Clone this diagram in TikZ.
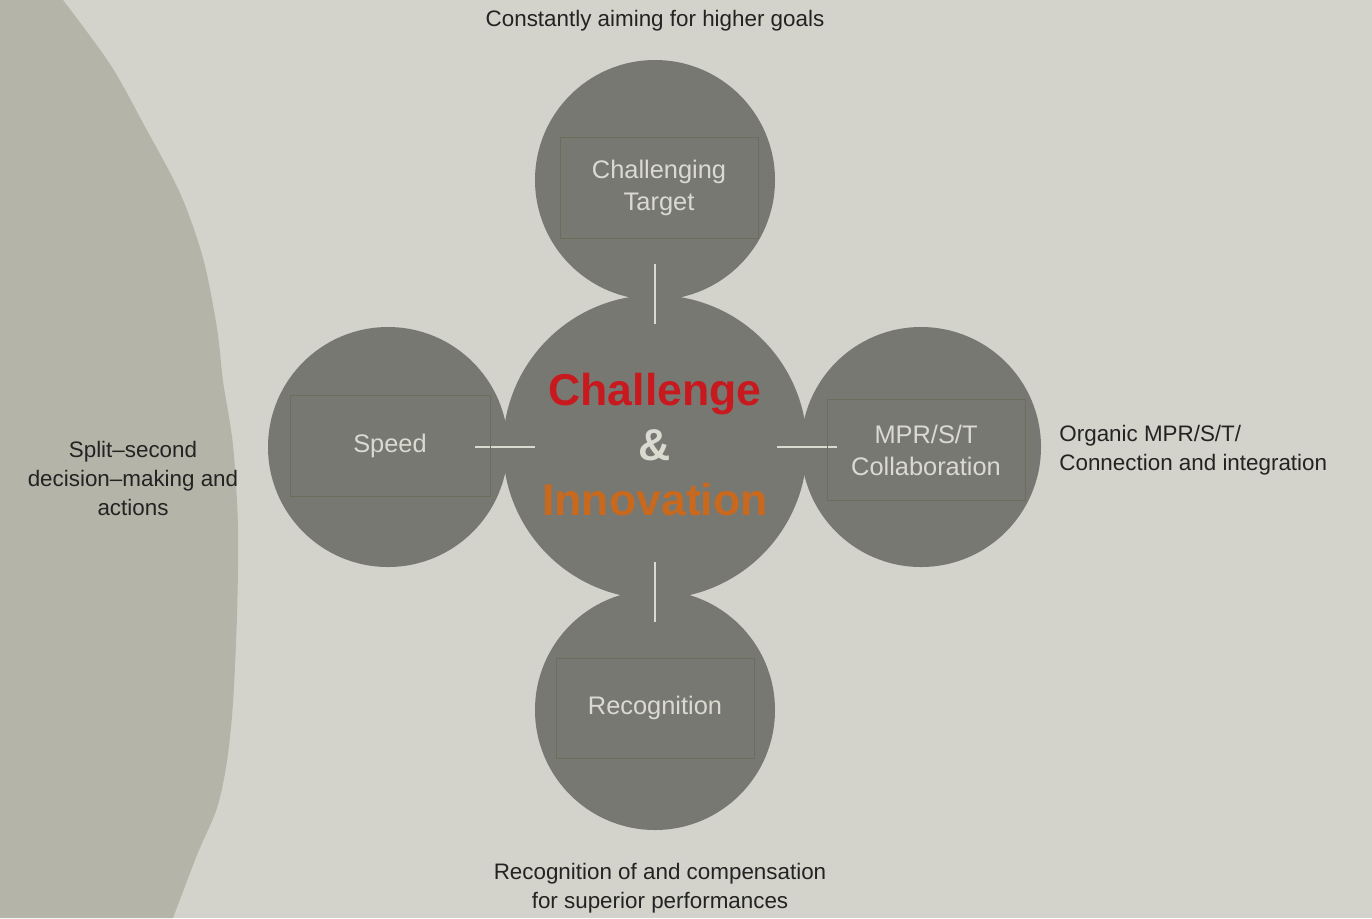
\documentclass[tikz,border=0pt]{standalone}
\usepackage{fontspec}
\setmainfont{Liberation Sans}
\definecolor{paper}{RGB}{211,211,203}
\definecolor{blobgray}{RGB}{181,180,168}
\definecolor{discgray}{RGB}{120,120,115}
\definecolor{rimolive}{RGB}{110,108,90}
\definecolor{paletext}{RGB}{218,218,208}
\definecolor{inktext}{RGB}{35,35,35}
\definecolor{hotred}{RGB}{200,25,30}
\definecolor{hotorange}{RGB}{200,105,30}
\tikzset{
  disc/.style={circle,fill=discgray,inner sep=0pt},
  tag/.style={draw=rimolive,line width=0.5pt,inner sep=0pt,text=paletext,align=center,
    font=\fontsize{12.7pt}{16pt}\selectfont},
  note/.style={text=inktext,inner sep=0pt,font=\fontsize{11.2pt}{14.5pt}\selectfont},
  link/.style={draw=paletext,line width=0.8pt}
}
\begin{document}
\begin{tikzpicture}[x=0.5pt,y=0.5pt,yscale=-1,xscale=1]
% background
\fill[paper] (0,0) rectangle (1372,918);
\useasboundingbox (0,0) rectangle (1372,918);

%Shape: left blob
\fill[blobgray] (0,0) -- plot[smooth] coordinates {(63,0) (110,64) (143,123) (180,193) (203,258) (217,328) (223,381) (233,445) (238,527) (237,615) (233,703) (227,761) (217,808) (197,855) (173,918)} -- (0,918) -- cycle;

%Shape: circles
\node[disc,minimum size=120pt] (tgt) at (655,180) {};
\node[disc,minimum size=120pt] (spd) at (388,447) {};
\node[disc,minimum size=120pt] (col) at (921,447) {};
\node[disc,minimum size=120pt] (rec) at (655,710) {};
\node[disc,minimum size=152pt] (core) at (655,447) {};

%Straight Lines
\draw[link,shorten <=42pt,shorten >=61.5pt] (tgt.center) -- (core.center);
\draw[link,shorten <=43.5pt,shorten >=60pt] (spd.center) -- (core.center);
\draw[link,shorten <=61pt,shorten >=42pt] (core.center) -- (col.center);
\draw[link,shorten <=57.5pt,shorten >=44pt] (core.center) -- (rec.center);

% Text Node
\node[tag,minimum width=99pt,minimum height=50.5pt] (tgtlbl) at (659,188) {Challenging\\Target};
\node[tag,minimum width=100pt,minimum height=50.5pt] (spdlbl) at (390,446) {Speed};
\node[tag,minimum width=99pt,minimum height=50.5pt] (collbl) at (926,450) {MPR/S/T\\Collaboration};
\node[tag,minimum width=99pt,minimum height=50pt] (reclbl) at (655,708) {Recognition};
% Text Node
\node[align=center,inner sep=0pt,font=\bfseries\fontsize{22.3pt}{27.5pt}\selectfont] (corelbl) at (655,445)
  {\textcolor{hotred}{Challenge}\\\textcolor{paletext}{\&}\\\textcolor{hotorange}{Innovation}};
% Text Node
\node[note] (tgtnote) at (655,21) {Constantly aiming for higher goals};
\node[note,align=center] (spdnote) at (133,478) {Split--second\\decision--making and\\actions};
\node[note,align=left,anchor=west] (colnote) at (1059,450) {Organic MPR/S/T/\\Connection and integration};
\node[note,align=center] (recnote) at (660,888) {Recognition of and compensation\\for superior performances};

\end{tikzpicture}
\end{document}
